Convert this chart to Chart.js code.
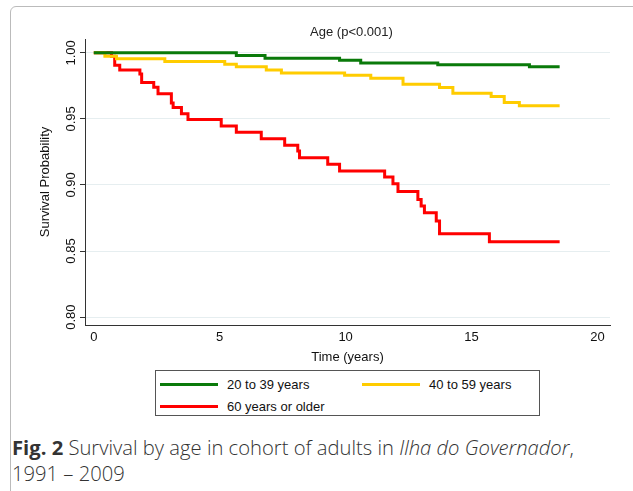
<!DOCTYPE html>
<html>
<head>
<meta charset="utf-8">
<script src="https://cdn.jsdelivr.net/npm/chart.js@4/dist/chart.umd.min.js"></script>
<style>
  body { margin: 0; background: #fff; font-family: "Liberation Sans", Arial, sans-serif; }
  #wrap { position: relative; width: 633px; height: 491px; overflow: hidden; }
  #frame { position: absolute; left: 10px; top: 6px; width: 640px; height: 500px; border: 1px solid #bbb; border-radius: 6px; }
  #chartBox { position: absolute; left: 0; top: 0; width: 633px; height: 365px; }
  #title { position: absolute; top: 24px; left: 0; width: 633px; text-align: center; padding-left: 70px; box-sizing: border-box; font-size: 13px; color: #222; }
  #legend { position: absolute; left: 155px; top: 370px; width: 385px; height: 46px; border: 1px solid #555; box-sizing: border-box; font-size: 13px; color: #111; }
  .item { position: absolute; display: flex; align-items: center; }
  .sw { width: 58px; height: 3px; margin-right: 9px; }
  #caption { position: absolute; left: 12px; top: 434px; font-family: "Open Sans", sans-serif; font-weight: 300; font-size: 20.2px; color: #333; line-height: 26px; white-space: nowrap; }
  #caption b { font-weight: 700; }
</style>
</head>
<body>
<div id="wrap">
  <div id="frame"></div>
  <div id="chartBox"><canvas id="kmChart"></canvas></div>
  <div id="title">Age (p&lt;0.001)</div>
  <div id="legend"></div>
  <div id="caption"><b>Fig. 2</b> Survival by age in cohort of adults in <i>Ilha do Governador</i>,<br>1991 – 2009</div>
</div>
<script>
const groupNames = ["20 to 39 years", "40 to 59 years", "60 years or older"];
const groupColors = ["#0a7a0a", "#ffcc00", "#ff0000"];

// step times and survival after each step
const youngTime = [0, 5.66, 6.8, 9.76, 10.6, 13.66, 17.3, 18.5];
const youngSurv = [1.0, 0.998, 0.996, 0.9945, 0.9924, 0.991, 0.9894, 0.9894];

const midTime = [0, 0.44, 0.9, 2.82, 5.2, 5.66, 6.85, 7.45, 9.96, 11.0, 12.28, 13.73, 14.26, 15.78, 16.3, 16.9, 18.5];
const midSurv = [1.0, 0.9975, 0.9955, 0.9934, 0.9914, 0.9894, 0.987, 0.9848, 0.983, 0.9808, 0.9763, 0.9737, 0.9695, 0.967, 0.9624, 0.960, 0.960];

const oldTime = [0, 0.7, 0.83, 1.03, 1.83, 1.9, 2.38, 2.55, 3.08, 3.15, 3.48, 3.74, 5.06, 5.66, 6.65, 7.58, 8.1, 8.17, 9.29, 9.76, 11.55, 11.88, 12.08, 12.87, 13.0, 13.13, 13.6, 13.73, 15.71, 18.5];
const oldSurv = [1.0, 0.9975, 0.9907, 0.987, 0.984, 0.9775, 0.974, 0.969, 0.962, 0.9586, 0.954, 0.9495, 0.9447, 0.940, 0.935, 0.930, 0.9258, 0.9207, 0.9157, 0.9106, 0.906, 0.901, 0.895, 0.889, 0.884, 0.879, 0.8727, 0.863, 0.857, 0.857];

const xTicks = [0, 5, 10, 15, 20];
const yTicks = [0.80, 0.85, 0.90, 0.95, 1.00];

function pts(t, s) { return t.map((v, i) => ({ x: v, y: s[i] })); }
const series = [pts(youngTime, youngSurv), pts(midTime, midSurv), pts(oldTime, oldSurv)];

// y tick labels read bottom-to-top, like the Stata original
const upLabels = {
    id: 'upLabels',
    afterDraw(chart) {
        const c = chart.ctx, y = chart.scales.y;
        c.save();
        c.font = '13px "Liberation Sans"';
        c.fillStyle = '#111';
        c.textAlign = 'center';
        c.textBaseline = 'bottom';
        yTicks.forEach(v => {
            c.save();
            c.translate(y.right - 7, y.getPixelForValue(v));
            c.rotate(-Math.PI / 2);
            c.fillText(v.toFixed(2), 0, 0);
            c.restore();
        });
        c.restore();
    }
};

const ctx = document.getElementById('kmChart').getContext('2d');
new Chart(ctx, {
    type: 'line',
    data: {
        datasets: series.map((d, i) => ({
            label: groupNames[i],
            data: d,
            borderColor: groupColors[i],
            borderWidth: 3,
            pointRadius: 0,
            stepped: true,
            fill: false
        }))
    },
    options: {
        responsive: true,
        maintainAspectRatio: false,
        animation: false,
        layout: { padding: { top: 39, right: 23 } },
        plugins: { legend: { display: false }, tooltip: { enabled: false } },
        scales: {
            x: {
                type: 'linear', min: -0.35, max: 20.5,
                afterBuildTicks: s => { s.ticks = xTicks.map(v => ({ value: v })); },
                afterFit: s => { s.height = 40; },
                grid: { display: false, drawTicks: true, tickLength: 5, color: '#333' },
                border: { color: '#333', width: 1 },
                ticks: { color: '#111', font: { family: 'Liberation Sans', size: 13 }, padding: 0 },
                title: { display: true, text: 'Time (years)', color: '#111', font: { family: 'Liberation Sans', size: 13 }, padding: { top: -2, bottom: 0 } }
            },
            y: {
                min: 0.794, max: 1.0105,
                afterBuildTicks: s => { s.ticks = yTicks.map(v => ({ value: v })); },
                afterFit: s => { s.width = 85; },
                grid: { color: '#e6eef0', tickColor: '#333', tickLength: 5 },
                border: { color: '#333', width: 1 },
                ticks: { display: false },
                title: { display: true, text: 'Survival Probability', color: '#111', font: { family: 'Liberation Sans', size: 13 }, padding: { top: 38, bottom: 0 } }
            }
        }
    },
    plugins: [upLabels]
});

const legend = document.getElementById('legend');
const spots = [[4, 6], [206, 6], [4, 28]];
groupNames.forEach((name, i) => {
    const el = document.createElement('div');
    el.className = 'item';
    el.style.left = spots[i][0] + 'px';
    el.style.top = spots[i][1] + 'px';
    el.innerHTML = `<span class="sw" style="background:${groupColors[i]}"></span>${name}`;
    legend.appendChild(el);
});
</script>
</body>
</html>
